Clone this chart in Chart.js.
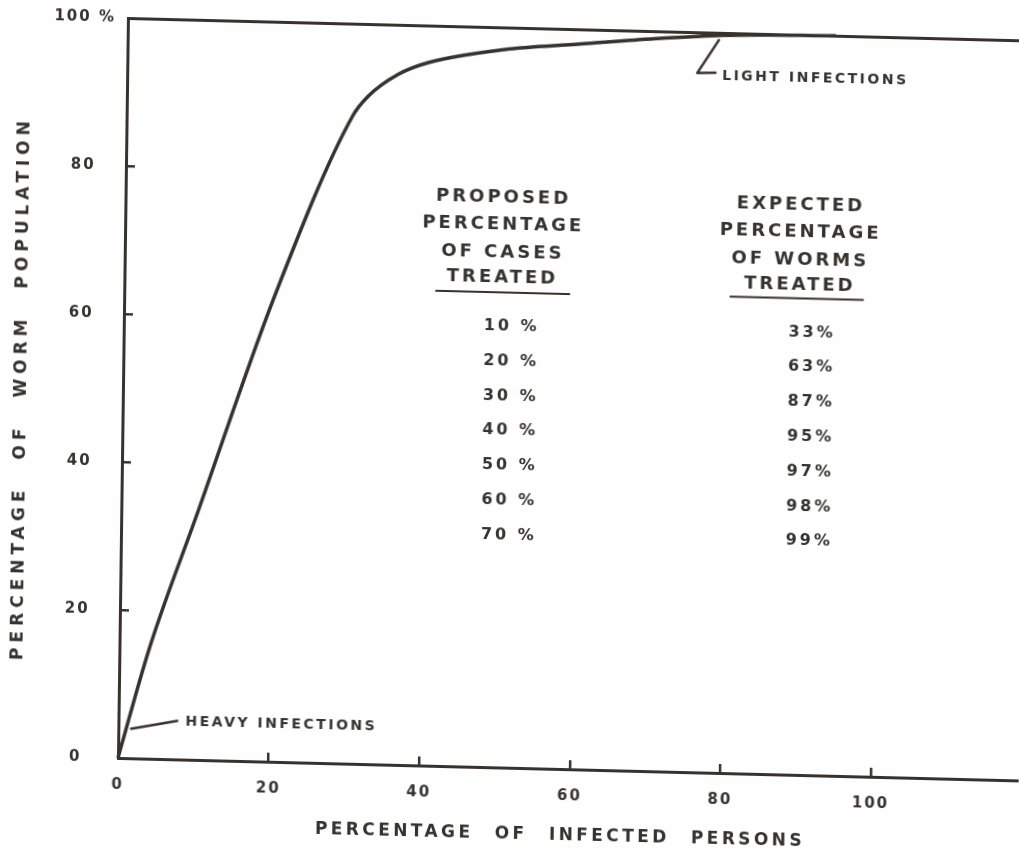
<!DOCTYPE html>
<html>
<head>
<meta charset="utf-8">
<title>Worm population treated vs infected persons treated</title>
<script src="https://cdn.jsdelivr.net/npm/chart.js@4.4.1/dist/chart.umd.min.js"></script>
<style>
  html, body { margin: 0; padding: 0; background: #fefefe; overflow: hidden; }
  /* the scanned original sits slightly askew on the page */
  #wrap { position: absolute; left: 0; top: 0; width: 1019px; height: 856px;
          transform-origin: 118px 758px; transform: matrix(1, 0.025, -0.0135, 1, 0, 0); }
</style>
</head>
<body>
<div id="wrap"><canvas id="c" width="1019" height="856"></canvas></div>
<script>
// curve: cumulative % of worm population vs % of infected persons (heaviest first)
const infectedPct = [0, 4, 10, 20, 30, 32, 36, 40, 50, 60, 70, 80, 94];
const wormPct     = [0, 15, 33, 63, 87.5, 90.2, 93.3, 95, 97, 98, 99, 99.7, 100];

// the little table printed inside the plot
const headCases    = ['PROPOSED', 'PERCENTAGE', 'OF CASES', 'TREATED'];
const headWorms    = ['EXPECTED', 'PERCENTAGE', 'OF WORMS', 'TREATED'];
const casesTreated = ['10 %', '20 %', '30 %', '40 %', '50 %', '60 %', '70 %'];
const wormsTreated = ['33%', '63%', '87%', '95%', '97%', '98%', '99%'];

const xTicks = [0, 20, 40, 60, 80, 100];
const yTicks = [0, 20, 40, 60, 80, 100];
const xTitle = 'PERCENTAGE OF INFECTED PERSONS';
const yTitle = 'PERCENTAGE OF WORM POPULATION';

const INK = '#37322d';
const FAMILY = '"DejaVu Sans", sans-serif';

function txt(ctx, s, x, y, size, ls, align, ws) {
    ctx.font = 'bold ' + size + 'px ' + FAMILY;
    ctx.letterSpacing = ls + 'px';
    ctx.wordSpacing = (ws || 0) + 'px';
    ctx.textAlign = align || 'center';
    ctx.textBaseline = 'middle';
    // letter spacing trails the last glyph too, so nudge centred text back
    ctx.fillText(s, align === 'left' ? x : x + ls / 2, y);
}

// tick labels are spaced out like the hand lettering
const spacing = {
    id: 'spacing',
    beforeDraw(chart) { chart.ctx.letterSpacing = '2px'; },
    afterDraw(chart) { chart.ctx.letterSpacing = '0px'; }
};

const notes = {
    id: 'notes',
    afterDatasetsDraw(chart) {
        const { ctx, scales: { x, y } } = chart;
        const p = (vx, vy) => [x.getPixelForValue(vx), y.getPixelForValue(vy)];
        ctx.save();
        ctx.fillStyle = INK;
        ctx.strokeStyle = INK;
        ctx.lineCap = 'round';
        ctx.lineJoin = 'round';

        // table headers
        const headY = [77, 73.3, 69.6, 66.2];
        headCases.forEach((s, i) => txt(ctx, s, ...p(50, headY[i]), 18, 3));
        headWorms.forEach((s, i) => txt(ctx, s, ...p(89.5, headY[i]), 18, 3));

        ctx.lineWidth = 2;
        ctx.beginPath();
        ctx.moveTo(...p(41.4, 64.2)); ctx.lineTo(...p(59.1, 64.2));
        ctx.moveTo(...p(80.5, 64.4)); ctx.lineTo(...p(98.1, 64.4));
        ctx.stroke();

        // table rows
        casesTreated.forEach((s, i) => txt(ctx, s, ...p(51.3, 59.6 - i * 4.7), 16, 3));
        wormsTreated.forEach((s, i) => txt(ctx, s, ...p(91.2, 59.8 - i * 4.7), 16, 3));

        // callouts
        ctx.lineWidth = 2.5;
        ctx.beginPath();
        ctx.moveTo(...p(78.5, 99.0)); ctx.lineTo(...p(75.7, 94.5)); ctx.lineTo(...p(78.1, 94.6));
        ctx.moveTo(...p(7.8, 5.2)); ctx.lineTo(...p(1.7, 4.0));
        ctx.stroke();
        txt(ctx, 'LIGHT INFECTIONS', ...p(79.0, 94.2), 14, 2.5, 'left');
        txt(ctx, 'HEAVY INFECTIONS', ...p(8.9, 5.1), 14, 2.5, 'left');

        // axis titles
        const ca = chart.chartArea;
        txt(ctx, xTitle, x.getPixelForValue(58.6), ca.bottom + 67, 17, 3.4, 'center', 12);
        ctx.translate(17, y.getPixelForValue(49.3));
        ctx.rotate(-Math.PI / 2);
        txt(ctx, yTitle, 0, 0, 17, 5, 'center', 15);
        ctx.restore();
    }
};

const tickFont = { family: FAMILY, size: 15, weight: 'bold' };

// keep the plot frame where the original has it: no extra room for edge labels
function noEdgePadding(s) {
    s.paddingTop = 0; s.paddingBottom = 0; s.paddingLeft = 0; s.paddingRight = 0;
}

new Chart(document.getElementById('c'), {
    type: 'line',
    data: {
        datasets: [{
            data: infectedPct.map((v, i) => ({ x: v, y: wormPct[i] })),
            borderColor: INK,
            borderWidth: 3.5,
            pointRadius: 0,
            fill: false,
            cubicInterpolationMode: 'monotone',
            clip: false
        }]
    },
    options: {
        responsive: false,
        animation: false,
        devicePixelRatio: 1,
        layout: { padding: { top: 0, right: 1, bottom: 0, left: 0 } },
        plugins: { legend: { display: false }, tooltip: { enabled: false } },
        scales: {
            x: {
                type: 'linear', min: 0, max: 119.5,
                afterFit(s) { s.height = 98; noEdgePadding(s); },
                afterBuildTicks(s) { s.ticks = xTicks.map(v => ({ value: v })); },
                grid: { drawOnChartArea: false, drawTicks: true, tickLength: -9, lineWidth: 2.5, color: INK },
                border: { display: true, width: 3, color: INK },
                ticks: { padding: 27, color: INK, font: tickFont, maxRotation: 0, autoSkip: false }
            },
            x2: {
                type: 'linear', position: 'top', min: 0, max: 119.5,
                afterFit(s) { s.height = 18; noEdgePadding(s); },
                grid: { display: false },
                ticks: { display: false },
                border: { display: true, width: 3, color: INK }
            },
            y: {
                type: 'linear', min: 0, max: 100,
                afterFit(s) { s.width = 118; noEdgePadding(s); },
                afterBuildTicks(s) { s.ticks = yTicks.map(v => ({ value: v })); },
                grid: { drawOnChartArea: false, drawTicks: true, tickLength: -9, lineWidth: 2.5, color: INK },
                border: { display: true, width: 3, color: INK },
                ticks: {
                    padding: 26, crossAlign: 'center', color: INK, font: tickFont,
                    callback: v => v === 100 ? '100 %' : String(v)
                }
            }
        }
    },
    plugins: [spacing, notes]
});
</script>
</body>
</html>
